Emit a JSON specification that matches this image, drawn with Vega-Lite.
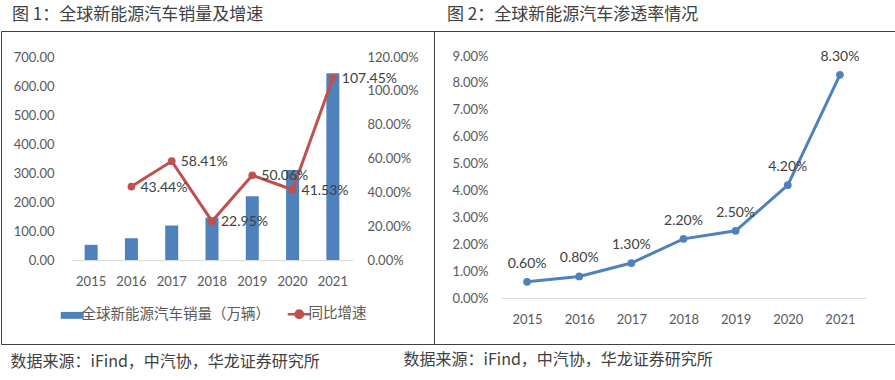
{
  "$schema": "https://vega.github.io/schema/vega-lite/v6.json",
  "padding": {"left": 0, "top": 5, "right": 0, "bottom": 0},
  "background": "white",
  "config": {
    "view": {"stroke": "#404040", "strokeWidth": 1},
    "axis": {"grid": false, "domain": false, "ticks": false, "title": null, "labelFont": "Lato", "labelFontSize": 13, "labelColor": "#595959"},
    "title": {"font": "Noto Sans CJK SC", "fontSize": 17, "fontWeight": "normal", "color": "#404040"}
  },
  "title": {"text": "数据来源：iFind，中汽协，华龙证券研究所", "orient": "bottom", "anchor": "start", "dx": 403, "offset": -18, "fontSize": 16},
  "vconcat": [
    {
      "title": {"text": "数据来源：iFind，中汽协，华龙证券研究所", "orient": "bottom", "anchor": "start", "dx": 10, "offset": 9, "fontSize": 16},
      "spacing": 0,
      "bounds": "flush",
      "hconcat": [
        {
          "width": 433,
          "height": 313,
          "title": {"text": "图 1：全球新能源汽车销量及增速", "anchor": "start", "frame": "group", "dx": 11, "offset": 7},
          "data": {"values": [
            {"year": "2015", "sales": 52.3, "growth": null},
            {"year": "2016", "sales": 75.1, "growth": 0.4344},
            {"year": "2017", "sales": 118.9, "growth": 0.5841},
            {"year": "2018", "sales": 146.2, "growth": 0.2295},
            {"year": "2019", "sales": 219.4, "growth": 0.5006},
            {"year": "2020", "sales": 310.5, "growth": 0.4153},
            {"year": "2021", "sales": 644, "growth": 1.0745}
          ]},
          "layer": [
            {
              "mark": {"type": "bar", "width": 13},
              "encoding": {
                "x": {"field": "year", "type": "ordinal", "scale": {"range": [70, 352], "paddingInner": 0, "paddingOuter": 0},
                      "axis": {"orient": "bottom", "offset": -84, "domain": true, "domainColor": "#D9D9D9", "labelPadding": 15, "labelAngle": 0}},
                "y": {"field": "sales", "type": "quantitative", "scale": {"domain": [0, 700], "range": [229, 26], "nice": false},
                      "axis": {"orient": "left", "offset": -70, "values": [0, 100, 200, 300, 400, 500, 600, 700], "format": ".2f", "labelPadding": 17}},
                "color": {
                  "datum": "全球新能源汽车销量（万辆）", "type": "nominal",
                  "scale": {"domain": ["全球新能源汽车销量（万辆）", "同比增速"], "range": ["#4F81BD", "#C0504D"]},
                  "legend": {
                    "orient": "none", "legendX": 64, "legendY": 276, "direction": "horizontal", "title": null,
                    "symbolSize": 529, "labelFontSize": 14.5, "labelColor": "#595959", "labelFont": "Noto Sans CJK SC",
                    "labelLimit": 400, "columnPadding": 12, "labelOffset": 2, "padding": 0,
                    "encode": {"symbols": {"update": {
                      "shape": {"signal": "datum.value === '同比增速' ? 'M-1,0L1,0M-0.32,0A0.32,0.32,0,1,1,0.32,0A0.32,0.32,0,1,1,-0.32,0Z' : 'M-1,-0.3L1,-0.3L1,0.3L-1,0.3Z'"},
                      "fill": {"signal": "datum.value === '同比增速' ? '#C0504D' : '#4F81BD'"},
                      "stroke": {"signal": "datum.value === '同比增速' ? '#C0504D' : '#4F81BD'"},
                      "strokeWidth": {"signal": "datum.value === '同比增速' ? 2.5 : 0"},
                      "opacity": {"value": 1},
                      "fillOpacity": {"value": 1}
                    }}}
                  }
                }
              }
            },
            {
              "layer": [
                {
                  "transform": [{"filter": "datum.growth != null"}],
                  "mark": {"type": "line", "strokeWidth": 3, "point": {"filled": true, "size": 60}},
                  "encoding": {
                    "x": {"field": "year", "type": "ordinal"},
                    "y": {"field": "growth", "type": "quantitative", "scale": {"domain": [0, 1.2], "range": [229, 26], "nice": false},
                          "axis": {"orient": "right", "offset": -81, "values": [0, 0.2, 0.4, 0.6, 0.8, 1.0, 1.2], "format": ".2%", "labelPadding": 14}},
                    "color": {"datum": "同比增速", "type": "nominal"}
                  }
                },
                {
                  "transform": [{"filter": "datum.growth != null"}],
                  "mark": {"type": "text", "align": "left", "baseline": "middle", "dx": 9, "dy": 1, "fontSize": 14, "font": "Lato", "color": "#404040"},
                  "encoding": {
                    "x": {"field": "year", "type": "ordinal"},
                    "y": {"field": "growth", "type": "quantitative"},
                    "text": {"field": "growth", "type": "quantitative", "format": ".2%"}
                  }
                }
              ]
            }
          ],
          "resolve": {"scale": {"y": "independent"}}
        },
        {
          "width": 462,
          "height": 313,
          "title": {"text": "图 2：全球新能源汽车渗透率情况", "anchor": "start", "frame": "group", "dx": 13, "offset": 7},
          "data": {"values": [
            {"year": "2015", "rate": 0.006},
            {"year": "2016", "rate": 0.008},
            {"year": "2017", "rate": 0.013},
            {"year": "2018", "rate": 0.022},
            {"year": "2019", "rate": 0.025},
            {"year": "2020", "rate": 0.042},
            {"year": "2021", "rate": 0.083}
          ]},
          "encoding": {
            "x": {"field": "year", "type": "ordinal", "scale": {"type": "point", "range": [67, 432], "padding": 0.5},
                  "axis": {"orient": "bottom", "offset": -46, "domain": true, "domainColor": "#D9D9D9", "labelPadding": 15, "labelAngle": 0}},
            "y": {"field": "rate", "type": "quantitative", "scale": {"domain": [0, 0.09], "range": [267, 25], "nice": false},
                  "axis": {"orient": "left", "offset": -67, "values": [0, 0.01, 0.02, 0.03, 0.04, 0.05, 0.06, 0.07, 0.08, 0.09], "format": ".2%", "labelPadding": 13}}
          },
          "layer": [
            {"mark": {"type": "line", "color": "#4F81BD", "strokeWidth": 3, "point": {"filled": true, "size": 60, "color": "#4F81BD"}}},
            {"mark": {"type": "text", "dy": -18, "fontSize": 14, "font": "Lato", "color": "#404040", "baseline": "middle"},
             "encoding": {"text": {"field": "rate", "type": "quantitative", "format": ".2%"}}}
          ]
        }
      ]
    }
  ]
}
